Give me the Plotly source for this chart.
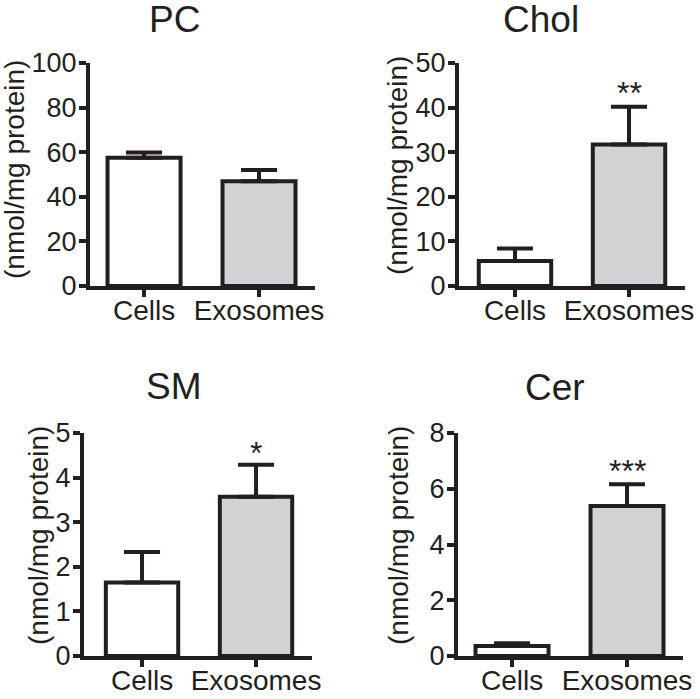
import plotly.graph_objects as go

categories = ["Cells", "Exosomes"]
panel_titles = ["PC", "Chol", "SM", "Cer"]

pc_mean = [57.5, 47.0]
pc_err = [2.4, 5.0]
chol_mean = [5.6, 31.7]
chol_err = [2.8, 8.5]
sm_mean = [1.65, 3.57]
sm_err = [0.68, 0.72]
cer_mean = [0.36, 5.38]
cer_err = [0.1, 0.78]

y_max = [100, 50, 5, 8]
y_dtick = [20, 10, 1, 2]
stars = ["", "**", "*", "***"]
star_y = [0, 43.3, 4.55, 6.65]

means = [pc_mean, chol_mean, sm_mean, cer_mean]
errs = [pc_err, chol_err, sm_err, cer_err]

W, H = 700, 699
INK = "#231f20"
GRAY = "#d1d3d4"
FONT = "Liberation Sans, Arial, Helvetica, sans-serif"

# pixel geometry of each panel: (left, right, top, bottom)
boxes = [(90, 315, 63, 286), (459, 685, 63, 286),
         (84, 312, 433, 656), (458, 683, 433, 656)]
x_ranges = [[-0.47, 1.487], [-0.491, 1.491], [-0.509, 1.491], [-0.47, 1.487]]
title_pos = [(174, 20), (541, 20), (174, 386), (555, 387)]
ytitle_pos = [(14, 170), (397, 166), (38, 536), (398, 536)]

fig = go.Figure()
layout = dict(
    width=W, height=H, margin=dict(l=0, r=0, t=0, b=0, autoexpand=False),
    paper_bgcolor="white", plot_bgcolor="white", showlegend=False,
    font=dict(family=FONT, color=INK, size=28),
    annotations=[],
)

for i in range(4):
    s = "" if i == 0 else str(i + 1)
    fig.add_trace(go.Bar(
        x=categories, y=means[i], width=0.635,
        marker=dict(color=["white", GRAY], line=dict(color=INK, width=4)),
        error_y=dict(type="data", symmetric=False, array=errs[i],
                     arrayminus=[0, 0], color=INK, thickness=4, width=18),
        xaxis="x" + s, yaxis="y" + s,
    ))
    l, r, t, b = boxes[i]
    layout["xaxis" + s] = dict(
        domain=[l / W, r / W], anchor="y" + s, range=x_ranges[i],
        showline=True, linecolor=INK, linewidth=4, showgrid=False,
        ticks="outside", ticklen=7, tickwidth=4, tickcolor=INK,
        ticklabelstandoff=-11,
        tickfont=dict(size=28, family=FONT, color=INK), zeroline=False,
        fixedrange=True, automargin=False,
    )
    layout["yaxis" + s] = dict(
        domain=[1 - b / H, 1 - t / H], anchor="x" + s,
        range=[0, y_max[i]], dtick=y_dtick[i], tick0=0,
        showline=True, linecolor=INK, linewidth=4, showgrid=False,
        ticks="outside", ticklen=7, tickwidth=4, tickcolor=INK,
        ticklabelstandoff=-3,
        tickfont=dict(size=27, family=FONT, color=INK), zeroline=False,
        fixedrange=True, automargin=False,
    )
    tx, ty = title_pos[i]
    layout["annotations"].append(dict(
        text=panel_titles[i], x=tx / W, y=1 - ty / H, xref="paper", yref="paper",
        showarrow=False, xanchor="center", yanchor="middle",
        font=dict(size=37, family=FONT, color=INK)))
    yx, yy = ytitle_pos[i]
    layout["annotations"].append(dict(
        text="(nmol/mg protein)", x=yx / W, y=1 - yy / H, xref="paper", yref="paper",
        showarrow=False, xanchor="center", yanchor="middle", textangle=-90,
        font=dict(size=28, family=FONT, color=INK)))
    if stars[i]:
        layout["annotations"].append(dict(
            text=stars[i], x="Exosomes", y=star_y[i], xref="x" + s, yref="y" + s,
            showarrow=False, xanchor="center", yanchor="middle",
            font=dict(size=32, family=FONT, color=INK)))

fig.update_layout(**layout)
fig.write_html("out.html", config={"displayModeBar": False},
               post_script="document.body.style.margin='0';")
